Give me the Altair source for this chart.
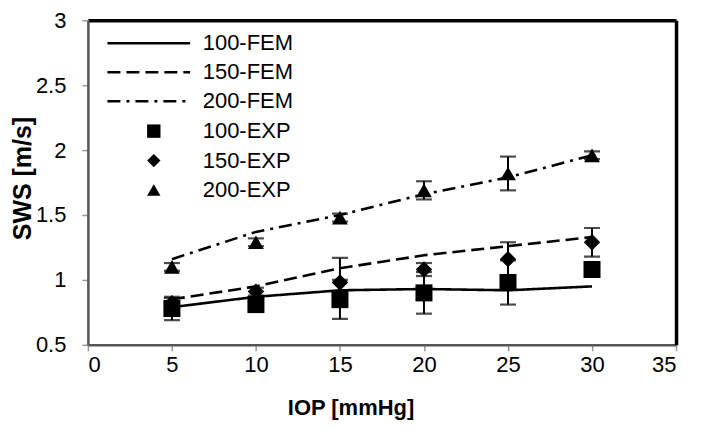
import altair as alt
import pandas as pd

iop = [5, 10, 15, 20, 25, 30]
fem100 = [0.79, 0.87, 0.92, 0.93, 0.92, 0.95]
fem150 = [0.85, 0.95, 1.09, 1.19, 1.26, 1.33]
fem200 = [1.16, 1.37, 1.50, 1.66, 1.79, 1.96]
exp100 = [0.78, 0.81, 0.85, 0.90, 0.98, 1.08]
err100 = [0.09, 0.03, 0.15, 0.16, 0.17, 0.03]
exp150 = [0.82, 0.91, 0.98, 1.08, 1.16, 1.29]
err150 = [0.04, 0.03, 0.19, 0.05, 0.13, 0.11]
exp200 = [1.10, 1.29, 1.48, 1.69, 1.82, 1.96]
err200 = [0.03, 0.03, 0.03, 0.07, 0.13, 0.03]

fem_names = ["100-FEM", "150-FEM", "200-FEM"]
exp_names = ["100-EXP", "150-EXP", "200-EXP"]

fem_rows = []
for name, vals in zip(fem_names, [fem100, fem150, fem200]):
    for x, v in zip(iop, vals):
        fem_rows.append({"iop": x, "sws": v, "series": name})
fem_df = pd.DataFrame(fem_rows)

exp_rows = []
for name, vals, errs in zip(exp_names, [exp100, exp150, exp200], [err100, err150, err200]):
    for x, v, e in zip(iop, vals, errs):
        exp_rows.append({"iop": x, "sws": v, "lo": v - e, "hi": v + e, "series": name})
exp_df = pd.DataFrame(exp_rows)

FONT = "Liberation Sans"

xscale = alt.Scale(domain=[0, 35], nice=False)
yscale = alt.Scale(domain=[0.5, 3], nice=False)

xaxis = alt.Axis(title="IOP [mmHg]", values=[0, 5, 10, 15, 20, 25, 30, 35], grid=False,
                 domain=True, domainColor="#555555", domainWidth=2.5,
                 tickColor="#999999", tickSize=6, tickWidth=1.5,
                 labelFontSize=22, labelFont=FONT, labelColor="#000000", labelPadding=4,
                 titleFontSize=22, titleFont=FONT, titleFontWeight="bold", titleColor="#000000",
                 titlePadding=22, titleX=263)
yaxis = alt.Axis(title="SWS [m/s]", values=[0.5, 1, 1.5, 2, 2.5, 3], grid=False,
                 domain=True, domainColor="#555555", domainWidth=2.5,
                 tickColor="#999999", tickSize=6, tickWidth=1.5,
                 labelFontSize=22, labelFont=FONT, labelColor="#000000", labelPadding=16,
                 titleFontSize=25, titleFont=FONT, titleFontWeight="bold", titleColor="#000000",
                 titlePadding=0, titleY=158,
                 labelExpr="datum.value == 0.5 || datum.value == 1.5 || datum.value == 2.5 ? format(datum.value, '.1f') : format(datum.value, 'd')")

top_axis = alt.Axis(orient="top", labels=False, ticks=False, title=None, grid=False,
                    domain=True, domainColor="black", domainWidth=3.5)
right_axis = alt.Axis(orient="right", labels=False, ticks=False, title=None, grid=False,
                      domain=True, domainColor="black", domainWidth=3.5)

frame = alt.Chart(fem_df).mark_point(opacity=0).encode(
    x=alt.X("iop:Q", scale=xscale, axis=top_axis),
    y=alt.Y("sws:Q", scale=yscale, axis=right_axis),
)

lines = alt.Chart(fem_df).mark_line(color="black", strokeWidth=2.6).encode(
    x=alt.X("iop:Q", scale=xscale, axis=xaxis),
    y=alt.Y("sws:Q", scale=yscale, axis=yaxis),
    strokeDash=alt.StrokeDash(
        "series:N",
        scale=alt.Scale(domain=fem_names, range=[[1, 0], [13, 6], [13, 6, 3, 6]]),
        legend=alt.Legend(title=None, orient="none", legendX=50, legendY=12,
                          symbolType="M-4.6,0H4.6", symbolSize=324, symbolStrokeWidth=2.6,
                          symbolStrokeColor="black", labelFontSize=22, labelFont=FONT,
                          labelColor="#000000", labelOffset=43, rowPadding=7, padding=0),
    ),
)

rules = alt.Chart(exp_df).mark_rule(color="black", strokeWidth=2).encode(
    x=alt.X("iop:Q", axis=None), y=alt.Y("lo:Q", axis=None), y2="hi:Q"
)
caps_lo = alt.Chart(exp_df).mark_tick(color="black", thickness=2.2, size=16, orient="horizontal").encode(
    x=alt.X("iop:Q", axis=None), y=alt.Y("lo:Q", axis=None)
)
caps_hi = alt.Chart(exp_df).mark_tick(color="black", thickness=2.2, size=16, orient="horizontal").encode(
    x=alt.X("iop:Q", axis=None), y=alt.Y("hi:Q", axis=None)
)

points = alt.Chart(exp_df).mark_point(filled=True, color="black", opacity=1).encode(
    x=alt.X("iop:Q", axis=None),
    y=alt.Y("sws:Q", axis=None),
    shape=alt.Shape(
        "series:N",
        scale=alt.Scale(domain=exp_names, range=["square", "diamond", "triangle-up"]),
        legend=alt.Legend(title=None, orient="none", legendX=55, legendY=100,
                          symbolSize=180, symbolFillColor="black", symbolStrokeColor="black",
                          symbolOpacity=1,
                          labelFontSize=22, labelFont=FONT, labelColor="#000000",
                          labelOffset=38, rowPadding=7.5, padding=0),
    ),
    size=alt.Size("series:N", scale=alt.Scale(domain=exp_names, range=[290, 250, 360]), legend=None),
)

chart = alt.layer(frame, lines, rules, caps_lo, caps_hi, points).resolve_axis(
    x="independent", y="independent"
).resolve_legend(
    strokeDash="independent", shape="independent"
).properties(
    width=589, height=325,
    autosize=alt.AutoSizeParams(type="none"),
    padding={"left": 80, "top": 12, "right": 20, "bottom": 88},
    background="white",
).configure_view(stroke=None)

chart.save("out.html", embed_options={"renderer": "svg", "actions": False})
